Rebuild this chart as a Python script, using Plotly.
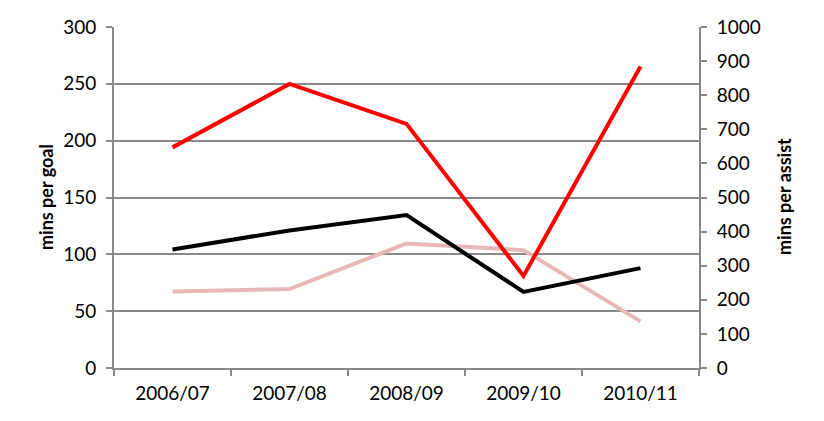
import plotly.graph_objects as go

seasons = ["2006/07", "2007/08", "2008/09", "2009/10", "2010/11"]
mins_per_assist = [647, 833, 716, 270, 884]        # red, right axis
mins_per_goal = [104.3, 121, 134.5, 67, 87.9]      # black, left axis
mins_per_goal_or_assist = [67.3, 69.4, 109.6, 103.7, 41]  # pink, left axis

left_ticks = [0, 50, 100, 150, 200, 250, 300]
right_ticks = [0, 100, 200, 300, 400, 500, 600, 700, 800, 900, 1000]

GRID = "#898989"
FONT = "Lato"

fig = go.Figure()
fig.add_trace(go.Scatter(x=seasons, y=mins_per_goal_or_assist, mode="lines",
                         line=dict(color="#E6B9B8", width=4), yaxis="y"))
fig.add_trace(go.Scatter(x=seasons, y=mins_per_goal, mode="lines",
                         line=dict(color="#000000", width=4), yaxis="y"))
fig.add_trace(go.Scatter(x=seasons, y=mins_per_assist, mode="lines",
                         line=dict(color="#FF0000", width=4), yaxis="y2"))

fig.update_layout(
    width=824, height=421,
    margin=dict(l=114, r=125, t=27, b=53),
    paper_bgcolor="white", plot_bgcolor="white",
    showlegend=False,
    font=dict(family=FONT, size=19, color="#000000"),
    xaxis=dict(
        type="category", range=[-0.5, 4.5],
        showgrid=False, showline=True, linecolor=GRID, linewidth=2,
        ticks="outside", tickson="boundaries", ticklen=6, tickcolor=GRID, tickwidth=2,
        tickfont=dict(size=19), ticklabelstandoff=7,
    ),
    yaxis=dict(
        range=[0, 300], tickvals=left_ticks,
        showgrid=True, gridcolor=GRID, gridwidth=2,
        showline=True, linecolor=GRID, linewidth=2,
        ticks="outside", ticklen=6, tickcolor=GRID, tickwidth=2,
        zeroline=False, tickfont=dict(size=19), ticklabelstandoff=6,
    ),
    yaxis2=dict(
        range=[0, 1000], tickvals=right_ticks, overlaying="y", side="right",
        showgrid=False, showline=True, linecolor=GRID, linewidth=2,
        ticks="outside", ticklen=6, tickcolor=GRID, tickwidth=2,
        zeroline=False, tickfont=dict(size=19), ticklabelstandoff=6,
    ),
    annotations=[
        dict(text="<b>mins per goal</b>", xref="paper", yref="paper",
             x=(46 - 114) / 585, y=(421 - 53 - 197) / 341, textangle=-90,
             showarrow=False, font=dict(size=18, family=FONT), xanchor="center", yanchor="middle"),
        dict(text="<b>mins per assist</b>", xref="paper", yref="paper",
             x=(784 - 114) / 585, y=(421 - 53 - 197) / 341, textangle=-90,
             showarrow=False, font=dict(size=18, family=FONT), xanchor="center", yanchor="middle"),
    ],
)

fig.write_html("out.html")
